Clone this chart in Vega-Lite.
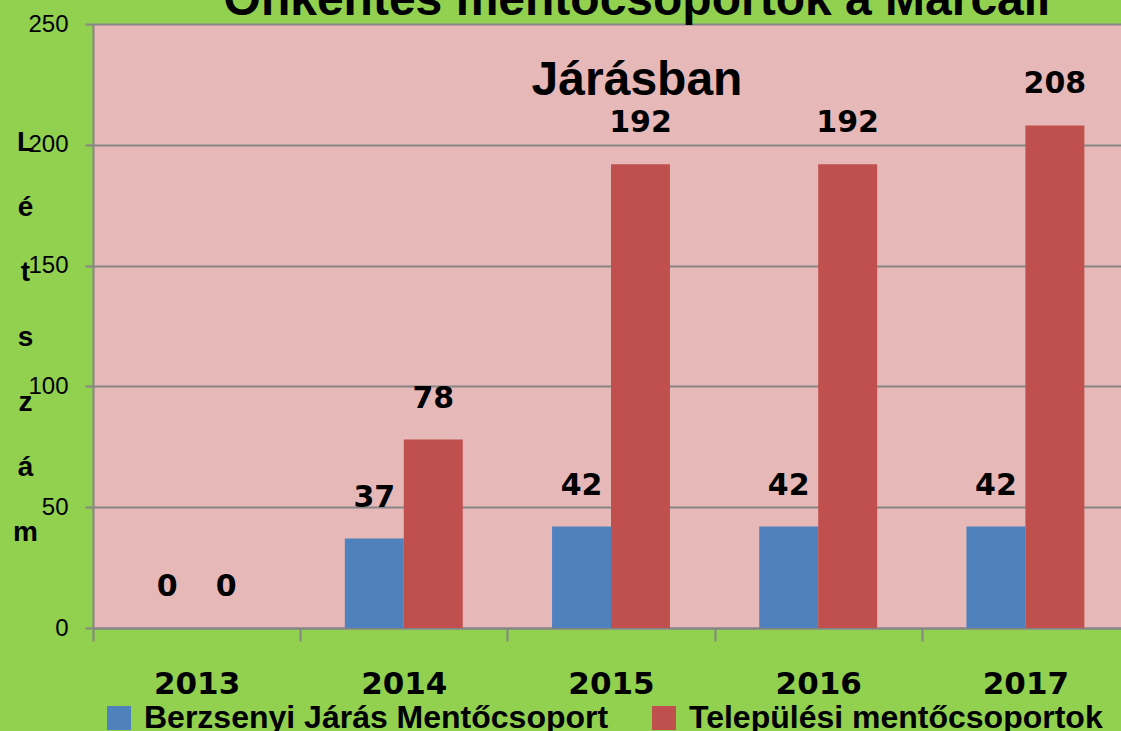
{
  "$schema": "https://vega.github.io/schema/vega-lite/v6.json",
  "width": 1028,
  "height": 604,
  "autosize": {"type": "none"},
  "padding": {"left": 93, "top": 24, "right": 0, "bottom": 103},
  "background": "#92D050",
  "config": {
    "view": {"fill": "#E6B8B7", "stroke": null},
    "font": "Liberation Sans"
  },
  "title": {
    "text": ["Önkéntes mentőcsoportok a Marcali", "Járásban"],
    "fontSize": 48,
    "fontWeight": "bold",
    "font": "Liberation Sans",
    "color": "#000000",
    "anchor": "middle",
    "frame": "group",
    "baseline": "alphabetic",
    "lineHeight": 80,
    "offset": 0,
    "dx": 30,
    "dy": 131
  },
  "data": {
    "values": [
      {"year": "2013", "series": "Berzsenyi Járás Mentőcsoport", "value": 0},
      {"year": "2013", "series": "Települési mentőcsoportok", "value": 0},
      {"year": "2014", "series": "Berzsenyi Járás Mentőcsoport", "value": 37},
      {"year": "2014", "series": "Települési mentőcsoportok", "value": 78},
      {"year": "2015", "series": "Berzsenyi Járás Mentőcsoport", "value": 42},
      {"year": "2015", "series": "Települési mentőcsoportok", "value": 192},
      {"year": "2016", "series": "Berzsenyi Járás Mentőcsoport", "value": 42},
      {"year": "2016", "series": "Települési mentőcsoportok", "value": 192},
      {"year": "2017", "series": "Berzsenyi Járás Mentőcsoport", "value": 42},
      {"year": "2017", "series": "Települési mentőcsoportok", "value": 208}
    ]
  },
  "encoding": {
    "x": {
      "field": "year",
      "type": "nominal",
      "scale": {"range": [0, 1036], "paddingInner": 0, "paddingOuter": 0},
      "axis": {
        "title": null,
        "labelAngle": 0,
        "labelFont": "DejaVu Sans",
        "labelFontSize": 31,
        "labelFontWeight": "bold",
        "labelColor": "#000000",
        "labelPadding": 28,
        "tickBand": "extent",
        "tickSize": 13,
        "tickColor": "#868686",
        "tickWidth": 2,
        "domainColor": "#868686",
        "domainWidth": 2,
        "grid": false
      }
    },
    "xOffset": {
      "field": "series",
      "type": "nominal",
      "sort": ["Berzsenyi Járás Mentőcsoport", "Települési mentőcsoportok"],
      "scale": {"paddingInner": 0, "paddingOuter": 0.757}
    },
    "y": {
      "field": "value",
      "type": "quantitative",
      "scale": {"domain": [0, 250], "nice": false},
      "axis": {
        "values": [0, 50, 100, 150, 200, 250],
        "title": ["L", "é", "t", "s", "z", "á", "m"],
        "titleAngle": 0,
        "titleX": -68,
        "titleY": 126,
        "titleAlign": "center",
        "titleBaseline": "alphabetic",
        "titleFontSize": 28,
        "titleFontWeight": "bold",
        "titleLineHeight": 65,
        "titleColor": "#000000",
        "labelFontSize": 24,
        "labelColor": "#000000",
        "labelPadding": 17,
        "tickSize": 8,
        "tickColor": "#868686",
        "tickWidth": 2,
        "domainColor": "#868686",
        "domainWidth": 2,
        "gridColor": "#868686",
        "gridWidth": 2
      }
    }
  },
  "layer": [
    {
      "mark": {"type": "bar"},
      "encoding": {
        "color": {
          "field": "series",
          "type": "nominal",
          "sort": ["Berzsenyi Járás Mentőcsoport", "Települési mentőcsoportok"],
          "scale": {"range": ["#4F81BD", "#C0504D"]},
          "legend": {
            "title": null,
            "orient": "none",
            "direction": "horizontal",
            "legendX": 10,
            "legendY": 678,
            "symbolType": "square",
            "symbolSize": 576,
            "symbolStrokeWidth": 0,
            "symbolOpacity": 1,
            "labelFontSize": 32,
            "labelFontWeight": "bold",
            "labelFont": "Liberation Sans",
            "labelColor": "#000000",
            "labelLimit": 600,
            "labelOffset": 9,
            "columnPadding": 39,
            "padding": 0
          }
        }
      }
    },
    {
      "mark": {
        "type": "text",
        "baseline": "bottom",
        "dy": -26,
        "fontSize": 30,
        "fontWeight": "bold",
        "font": "DejaVu Sans",
        "color": "#000000"
      },
      "encoding": {
        "text": {"field": "value", "type": "quantitative"}
      }
    }
  ]
}
